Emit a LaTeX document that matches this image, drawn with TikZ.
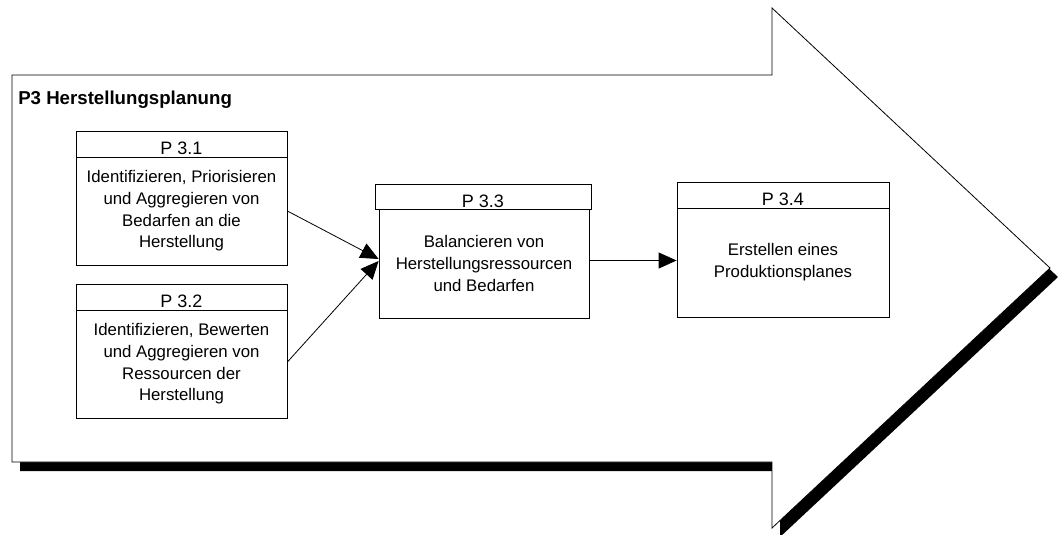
\documentclass[tikz,border=0pt]{standalone}
\usepackage{fontspec}
\setmainfont{Liberation Sans}
\usetikzlibrary{arrows.meta,calc}

% font sizes for the process boxes and the title
\newcommand\txtbody{\fontsize{12.6}{16.3}\selectfont}
\newcommand\txthead{\fontsize{13.5}{15}\selectfont}
\newcommand\txttitle{\bfseries\fontsize{14}{16}\selectfont}

\begin{document}
\begin{tikzpicture}[x=0.75pt,y=-0.75pt,
  outline/.style={draw=black,line width=0.6pt},
  bodybox/.style={outline,fill=white,rectangle,inner sep=0pt,align=center,font=\txtbody},
  headbox/.style={outline,fill=white,rectangle,inner sep=0pt,text height=15.75pt,text depth=0pt,font=\txthead},
  flow/.style={line width=0.6pt,-{Triangle[length=13.5pt,width=12pt]}},
  dropshadow/.style={fill=black}]

\useasboundingbox (0,0) rectangle (1060,535);

% process arrow with its drop shadow
\fill[dropshadow] (20,84) -- (780,84) -- (780,17) -- (1058,277) -- (780,537)
  -- (780,471) -- (20,471) -- cycle;
\draw[outline,fill=white] (12,75) -- (772,75) -- (772,8) -- (1050,268) -- (772,528)
  -- (772,462) -- (12,462) -- cycle;

\node[anchor=base west,inner sep=0pt,font=\txttitle] (title) at (18,104) {P3 Herstellungsplanung};

% P 3.1
\node[headbox,minimum width=158.25pt,minimum height=19.5pt] (h31) at (181.5,144) {P 3.1};
\node[bodybox,minimum width=158.25pt,minimum height=81pt] (b31) at (181.5,211)
  {Identifizieren, Priorisieren\\und Aggregieren von\\Bedarfen an die\\Herstellung};

% P 3.2
\node[headbox,minimum width=158.25pt,minimum height=19.5pt] (h32) at (181.5,297) {P 3.2};
\node[bodybox,minimum width=158.25pt,minimum height=81pt] (b32) at (181.5,364)
  {Identifizieren, Bewerten\\und Aggregieren von\\Ressourcen der\\Herstellung};

% P 3.3
\node[headbox,minimum width=162pt,minimum height=18.75pt] (h33) at (483,196.5) {P 3.3};
\node[bodybox,minimum width=157.5pt,minimum height=81.75pt] (b33) at (484,263.5)
  {Balancieren von\\Herstellungsressourcen\\und Bedarfen};

% P 3.4
\node[headbox,minimum width=159pt,minimum height=19.5pt] (h34) at (783,195) {P 3.4};
\node[bodybox,minimum width=159pt,minimum height=81.75pt] (b34) at (783,262.5)
  {Erstellen eines\\Produktionsplanes};

% flows between the steps
\draw[flow] (b31.east) -- ($(b33.west)+(0,-4.5)$);
\draw[flow] ($(b32.east)+(0,-2)$) -- ($(b33.west)+(0,-2.5)$);
\coordinate (a3) at ($(b33.east)+(0,-3)$);
\draw[flow] (a3) -- (a3 -| b34.west);

\end{tikzpicture}
\end{document}
